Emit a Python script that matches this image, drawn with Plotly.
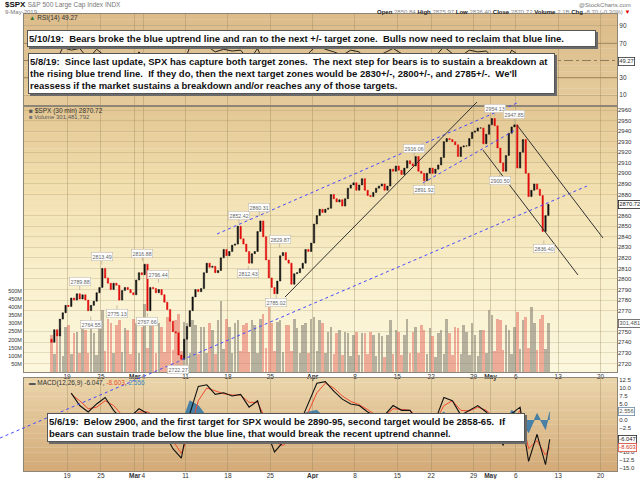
import plotly.graph_objects as go

# x axis is in trading days, 0 = Tue 19 Feb 2019 (weekends/holidays removed)
tick_days = [0, 4, 8, 9, 14, 19, 24, 29, 34, 39, 43, 48, 50, 53, 58, 63]
tick_text = ["19", "25", "<b>Mar</b>", "4", "11", "18", "25", "<b>Apr</b>", "8",
             "15", "22", "29", "<b>May</b>", "6", "13", "20"]

# $SPX, three readings per session, 14 Feb .. 9 May 2019
first_open = 2743.0
spx_close = [
    2740, 2752, 2746,  2762, 2768, 2775,  2774, 2782, 2780,  2786, 2781, 2785,
    2780, 2770, 2775,  2779, 2787, 2792,  2810, 2801, 2796,  2790, 2796, 2794,
    2780, 2789, 2792,  2790, 2787, 2785,  2799, 2806, 2804,  2814, 2770, 2792,
    2791, 2787, 2790,  2785, 2778, 2771,  2760, 2750, 2749,  2728, 2724, 2743,
    2755, 2770, 2783,  2790, 2788, 2791,  2806, 2815, 2811,  2812, 2806, 2808,
    2820, 2828, 2822,  2826, 2832, 2833,  2850, 2838, 2833,  2826, 2815, 2824,
    2826, 2845, 2855,  2840, 2818, 2801,  2792, 2786, 2798,  2822, 2825, 2818,
    2815, 2795, 2805,  2806, 2810, 2815,  2828, 2826, 2834,  2852, 2860, 2866,
    2863, 2866, 2867,  2880, 2876, 2873,  2875, 2869, 2876,  2886, 2889, 2891,
    2884, 2889, 2895,  2884, 2879, 2878,  2882, 2886, 2888,  2890, 2884, 2888,
    2904, 2902, 2907,  2903, 2899, 2905,  2912, 2909, 2907,  2916, 2902, 2900,
    2893, 2900, 2905,  2900, 2904, 2908,  2915, 2930, 2933,  2932, 2930, 2927,
    2916, 2925, 2926,  2926, 2933, 2939,  2940, 2943, 2943,  2928, 2937, 2946,
    2952, 2945, 2924,  2910, 2902, 2917,  2938, 2944, 2946,  2905, 2920, 2932,
    2900, 2878, 2884,  2890, 2885, 2879,  2845, 2860, 2870.72,
]

# volume (millions) per session: opening, middle and closing reading
vol_open = [230, 270, 290, 250, 260, 240, 380, 300, 320, 260, 300, 420, 290, 280, 330,
            360, 300, 290, 280, 260, 440, 280, 320, 300, 290, 360, 300, 320, 290, 270,
            300, 340, 300, 280, 260, 240, 250, 240, 230, 220, 320, 250, 330, 280, 260,
            220, 260, 240, 270, 250, 230, 260, 350, 320, 260, 370, 340, 300, 350]
vol_mid = [110, 100, 110, 120, 115, 105, 130, 120, 125, 110, 115, 150, 120, 125, 135,
           130, 120, 110, 115, 110, 140, 115, 130, 125, 120, 150, 130, 125, 130, 115,
           120, 130, 115, 110, 105, 100, 105, 110, 100, 95, 110, 105, 115, 120, 110,
           95, 110, 105, 110, 105, 100, 115, 130, 135, 110, 140, 150, 135, 140]
vol_close = [260, 280, 240, 320, 290, 300, 330, 290, 270, 330, 280, 300, 300, 340, 320,
             310, 320, 280, 300, 320, 330, 300, 290, 320, 330, 400, 310, 290, 330, 290,
             330, 320, 250, 240, 250, 230, 240, 250, 240, 230, 260, 230, 250, 290, 270,
             240, 330, 280, 290, 300, 260, 380, 330, 290, 280, 320, 400, 330, 301.48]

# RSI(14), one reading per session (14 Feb .. 9 May)
rsi = [45, 65, 62, 64, 52, 63, 55, 52, 50, 48, 60, 47, 49, 40, 33, 38, 66, 64, 67, 60,
       63, 61, 62, 50, 64, 40, 42, 52, 44, 52, 58, 68, 63, 60, 56, 62, 60, 48, 54, 59,
       64, 58, 56, 42, 50, 55, 66, 58, 55, 62, 60, 61, 52, 42, 62, 55, 33, 42, 49.27]

# MACD(12,26,9), one reading per session from 19 Feb, plus the last bar
macd = [8.4, 4.5, 2.5, 5.0, 7.0, 3.0, 0.0, 1.0, 3.5, 2.0, 0.5, -4, -9, -12, 2, 10.5,
        11, 8, 8.5, 7.5, 8, 4, 6, -3, -10, -7, -5, -1, 5, 11.5, 12, 9, 6.5, 5, 4.5,
        2.5, 1, 1.5, 4.5, 3, 3, -1, -1.5, 0, 7, 6, 1.5, 3, 4.5, 2.5, -1, -8, 2, 4,
        -13, -4.5, -14, -6.047]
macd_signal = [8.0, 6.0, 3.5, 4.0, 6.0, 4.5, 1.5, 0.8, 2.5, 2.5, 1.2, -2, -6.5, -10.5,
               -4, 6, 10, 9, 8.2, 7.8, 7.8, 5.5, 5.5, 0, -7, -8, -6, -2.5, 2.5, 8.5,
               11.5, 10, 7.5, 5.8, 4.8, 3.2, 1.5, 1.2, 3.5, 3.3, 3, 0.5, -1, -0.5,
               4.5, 6, 3, 2.8, 4, 3, 0.5, -5.5, -1, 3, -9, -6.5, -11, -8.603]

# labelled swing highs / lows: (trading day, price, kind)
swing_marks = [
    (1.5, 2789.88, "high"), (4.1, 2813.49, "high"), (2.8, 2764.55, "low"),
    (5.9, 2775.13, "low"), (8.9, 2816.88, "high"), (10.8, 2796.44, "high"),
    (9.5, 2767.66, "low"), (13.1, 2722.27, "low"), (20.3, 2852.42, "high"),
    (22.7, 2860.31, "high"), (21.4, 2812.43, "low"), (25.1, 2829.87, "high"),
    (24.7, 2785.02, "low"), (41.0, 2916.06, "high"), (42.2, 2891.92, "low"),
    (50.5, 2954.13, "high"), (52.8, 2947.85, "high"), (51.1, 2900.50, "low"),
    (56.3, 2836.40, "low"),
]

# hand-drawn trend lines: ((day, price), (day, price), colour)
trend_lines = [
    ((-7.91, 2649.4), (61.39, 2888.0), "#4848ff"),
    ((17.71, 2842.6), (53.13, 2966.6), "#4848ff"),
    ((42.03, 2890.9), (53.13, 2942.0), "#4848ff"),
    ((25.74, 2782.9), (48.41, 2967.6), "#333333"),
    ((49.11, 2922.1), (60.33, 2803.8), "#333333"),
    ((53.13, 2945.8), (63.28, 2838.8), "#333333"),
]

# commentary boxes: text, left / top in paper units, box width / height in px
notes = [
    ("5/10/19:  Bears broke the blue uptrend line and ran to the next +/- target zone.  "
     "Bulls now need to reclaim that blue line.", 0.005, 0.965, 565, 13),
    ("5/8/19:  Since last update, SPX has capture both target zones.  The next step for "
     "bears is to sustain a breakdown at<br>the rising blue trend line.  If they do, then "
     "the next target zones would be 2830+/-, 2800+/-, and 2785+/-.  We'll<br>reassess if "
     "the market sustains a breakdown and/or reaches any of those targets.",
     0.0067, 0.9147, 523, 37),
    ("5/6/19:  Below 2900, and the first target for SPX would be 2890-95, second target "
     "would be 2858-65.  If<br>bears can sustain trade below the blue line, that would "
     "break the recent uptrend channel.", 0.0388, 0.1269, 474, 25),
]

X0, X1 = -5.08, 64.94
P0, P1 = 2711.9, 2963.8
RSI_DOM = [0.7987, 1.0]
MAIN_DOM = [0.2166, 0.7987]
MACD_DOM = [0.0, 0.2035]
FONT = "Liberation Sans"

bar_day = [-2 + (i + 0.5) / 3 for i in range(len(spx_close))]
spx_open = [first_open] + spx_close[:-1]
spx_high = [max(o, c) for o, c in zip(spx_open, spx_close)]
spx_low = [min(o, c) for o, c in zip(spx_open, spx_close)]

volume = []
for o, m, c in zip(vol_open, vol_mid, vol_close):
    volume += [o, m, c]
vol_colors = ["rgba(226,96,84,0.5)" if c < o else "rgba(112,108,98,0.5)"
              for o, c in zip(spx_open, spx_close)]

rsi_day = [d + 0.5 for d in range(-2, -2 + len(rsi))]
macd_day = [d + 0.5 for d in range(len(macd) - 1)] + [len(macd) - 1.0]
macd_hist = [m - s for m, s in zip(macd, macd_signal)]


def to_paper(day, price):
    fx = (day - X0) / (X1 - X0)
    fy = MAIN_DOM[0] + (price - P0) / (P1 - P0) * (MAIN_DOM[1] - MAIN_DOM[0])
    return fx, fy


def gradient_bands(xref, yref, stops, n=40):
    # horizontal colour bands behind one panel, bottom (0) to top (1)
    out = []
    for k in range(n):
        t = (k + 0.5) / n
        rgb = stops[-1][1]
        for (p0, c0), (p1, c1) in zip(stops, stops[1:]):
            if p0 <= t <= p1:
                f = (t - p0) / (p1 - p0)
                rgb = [round(a + (b - a) * f) for a, b in zip(c0, c1)]
                break
        out.append(dict(type="rect", xref=xref + " domain", yref=yref + " domain",
                        x0=0, x1=1, y0=k / n, y1=min((k + 1.05) / n, 1),
                        fillcolor="rgb(%d,%d,%d)" % tuple(rgb),
                        line=dict(width=0), layer="below"))
    return out


fig = go.Figure()

# volume under the candles
fig.add_trace(go.Bar(x=bar_day, y=volume, xaxis="x2", yaxis="y2",
                     marker=dict(color=vol_colors, line=dict(width=0)),
                     width=0.3, hoverinfo="skip", showlegend=False))

fig.add_trace(go.Candlestick(
    x=bar_day, open=spx_open, high=spx_high, low=spx_low, close=spx_close,
    xaxis="x2", yaxis="y3", whiskerwidth=0,
    increasing=dict(line=dict(color="#111111", width=0.5), fillcolor="#111111"),
    decreasing=dict(line=dict(color="#e00d0d", width=0.5), fillcolor="#e00d0d"),
    hoverinfo="skip", showlegend=False))

fig.add_trace(go.Scatter(x=rsi_day, y=rsi, xaxis="x", yaxis="y", mode="lines",
                         line=dict(color="#111111", width=0.9),
                         hoverinfo="skip", showlegend=False))

fig.add_trace(go.Scatter(x=macd_day, y=macd_hist, xaxis="x3", yaxis="y4", mode="lines",
                         fill="tozeroy", fillcolor="rgba(34,112,170,0.8)",
                         line=dict(color="#1f6aa2", width=0.5),
                         hoverinfo="skip", showlegend=False))
fig.add_trace(go.Scatter(x=macd_day, y=macd_signal, xaxis="x3", yaxis="y4", mode="lines",
                         line=dict(color="#f04a30", width=1),
                         hoverinfo="skip", showlegend=False))
fig.add_trace(go.Scatter(x=macd_day, y=macd, xaxis="x3", yaxis="y4", mode="lines",
                         line=dict(color="#111111", width=1.1),
                         hoverinfo="skip", showlegend=False))

shapes = []
shapes += gradient_bands("x", "y", [(0, (229, 204, 156)), (1, (219, 187, 137))], 16)
shapes += gradient_bands("x2", "y2", [(0, (251, 247, 222)), (0.35, (249, 240, 204)),
                                      (0.7, (241, 223, 174)), (1, (226, 198, 146))], 50)
shapes += gradient_bands("x3", "y4", [(0, (211, 170, 120)), (1, (234, 213, 170))], 20)

for lvl, col, dash in [(70, "#a48a5c", "solid"), (30, "#a48a5c", "solid"),
                       (50, "#8c7b5e", "dashdot")]:
    shapes.append(dict(type="line", xref="paper", yref="y", x0=0, x1=1, y0=lvl, y1=lvl,
                       line=dict(color=col, width=1, dash=dash), layer="below"))

for (d0, p0), (d1, p1), col in trend_lines:
    ax0, ay0 = to_paper(d0, p0)
    ax1, ay1 = to_paper(d1, p1)
    shapes.append(dict(type="line", xref="paper", yref="paper", x0=ax0, y0=ay0,
                       x1=ax1, y1=ay1, layer="above",
                       line=dict(color=col, width=1,
                                 dash="dot" if col == "#4848ff" else "solid")))

tickfont = dict(family=FONT, size=6.5, color="#333333")
grid = "rgba(150,128,88,0.35)"
xbase = dict(range=[X0, X1], tickvals=tick_days, ticktext=tick_text, showgrid=True,
             gridcolor=grid, gridwidth=1, zeroline=False, showline=True,
             linecolor="#8f8576", mirror=True, ticks="", tickangle=0,
             ticklabelstandoff=-2, automargin=False, tickfont=tickfont)
# labels hidden behind the value tags are left out
price_ticks = [p for p in range(2720, 2961, 10) if p not in (2760, 2870)]
macd_ticks = [12.5, 10, 7.5, 5, 0, -2.5, -10, -12.5, -15]

fig.update_layout(
    width=640, height=479,
    margin=dict(l=24, r=23, t=14, b=8, autoexpand=False),
    paper_bgcolor="white", plot_bgcolor="rgba(0,0,0,0)",
    font=dict(family=FONT, size=7, color="#333333"),
    showlegend=False,
    bargap=0,
    xaxis=dict(xbase, anchor="y", showticklabels=False),
    xaxis2=dict(xbase, anchor="y2", rangeslider=dict(visible=False)),
    xaxis3=dict(xbase, anchor="y4"),
    yaxis=dict(domain=RSI_DOM, anchor="x", side="right", range=[-2.75, 103.9],
               tickvals=[10, 30, 70, 90], showgrid=True, gridcolor=grid,
               zeroline=False, showline=True, linecolor="#8f8576", mirror=True,
               ticks="", automargin=False, tickfont=tickfont),
    yaxis2=dict(domain=MAIN_DOM, anchor="x2", side="left", range=[0, 1642],
                tickvals=[50, 100, 150, 200, 250, 300, 350, 400, 450, 500],
                ticktext=["50M", "100M", "150M", "200M", "250M", "300M", "350M",
                          "400M", "450M", "500M"],
                showgrid=False, zeroline=False, showline=True, linecolor="#8f8576",
                mirror=True, ticks="", automargin=False,
                tickfont=dict(tickfont, size=5.5)),
    yaxis3=dict(overlaying="y2", anchor="x2", side="right", range=[P0, P1],
                tickvals=price_ticks, showgrid=True, gridcolor="rgba(150,128,88,0.22)",
                zeroline=False, ticks="", automargin=False, tickfont=dict(tickfont, size=6)),
    yaxis4=dict(domain=MACD_DOM, anchor="x3", side="right", range=[-16.0, 13.13],
                tickvals=macd_ticks, tickformat=".1f", showgrid=False, zeroline=False,
                showline=True, linecolor="#8f8576", mirror=True, ticks="",
                automargin=False, tickfont=dict(tickfont, size=6)),
    shapes=shapes,
)

# swing high / low price labels
for d, p, kind in swing_marks:
    fig.add_annotation(x=d, y=p, xref="x2", yref="y3", text="%.2f" % p,
                       showarrow=True, arrowhead=0, arrowwidth=0.7, arrowcolor="#b0a898",
                       ax=0, ay=-8 if kind == "high" else 8,
                       font=dict(family=FONT, size=5.3, color="#666666"),
                       bgcolor="white", bordercolor="#b8b0a0", borderwidth=0.5, borderpad=1)

# commentary boxes, each with a grey drop shadow of the same size behind it
for text, px, py, bw, bh in notes:
    for shadow in (True, False):
        fig.add_annotation(
            x=px, y=py, xref="paper", yref="paper", xanchor="left", yanchor="top",
            text=" " if shadow else "<b>%s</b>" % text, align="left", valign="middle",
            showarrow=False, width=bw, height=bh,
            xshift=2 if shadow else 0, yshift=-2 if shadow else 0,
            font=dict(family=FONT, size=9.5, color="#111111"),
            bgcolor="#6a6a6a" if shadow else "white",
            bordercolor="#6a6a6a" if shadow else "#555555",
            borderwidth=1, borderpad=1)

# header and panel titles
header = [
    ("<b>$SPX</b> <span style='color:#777;font-size:6.5px'>S&P 500 Large Cap Index INDX</span>",
     -0.0354, 1.0197, "left", 8, "#111111"),
    ("9-May-2019", -0.0354, 1.0044, "left", 6, "#777777"),
    ("@StockCharts.com", 1.027, 1.0197, "right", 6, "#777777"),
    ("<b>Open</b> <span style='color:#888'>2850.84</span> <b>High</b> "
     "<span style='color:#888'>2875.97</span> <b>Low</b> <span style='color:#888'>2836.40</span> "
     "<b>Close</b> <span style='color:#888'>2870.72</span> <b>Volume</b> "
     "<span style='color:#888'>2.1B</span> <b>Chg</b> <span style='color:#888'>-8.70 (-0.30%)</span> "
     "<span style='color:#d00'>▼</span>", 1.025, 1.0044, "right", 6, "#222222"),
    ("<span style='color:#3a7a2a'>▲</span> RSI(14) 49.27", 0.005, 0.9912, "left", 6.5, "#333333"),
    ("<span style='color:#555'>■</span> $SPX (30 min) 2870.72", 0.005, 0.7877, "left", 6.5, "#333333"),
    ("<span style='color:#777'>■</span> Volume 301,481,792", 0.005, 0.7746, "left", 6, "#555555"),
    ("<span style='color:#555'>▬</span> MACD(12,26,9) -6.047, <span style='color:#e8502e'>-8.603</span>, "
     "<span style='color:#3a8ac0'>2.556</span>", 0.005, 0.192, "left", 6.5, "#333333"),
]
for text, hx, hy, anchor, size, col in header:
    fig.add_annotation(x=hx, y=hy, xref="paper", yref="paper", xanchor=anchor,
                       yanchor="middle", text=text, showarrow=False,
                       font=dict(family=FONT, size=size, color=col))

# value tags on the right-hand axes
tags = [
    ("49.27", 49.27, "y", "#333333", "#333333"),
    ("2870.72", 2870.72, "y3", "#222222", "#222222"),
    ("301,481,792", 301.48, "y2", "#555555", "#555555"),
    ("2.556", 2.556, "y4", "#555555", "#6a8aa8"),
    ("-6.047", -6.047, "y4", "#222222", "#222222"),
    ("-8.603", -8.603, "y4", "#d03020", "#e05040"),
]
for text, val, yref, col, border in tags:
    fig.add_annotation(x=1, y=val, xref="paper", yref=yref, xanchor="left",
                       yanchor="middle", xshift=1, text=text, showarrow=False,
                       font=dict(family=FONT, size=5.8, color=col),
                       bgcolor="white", bordercolor=border, borderwidth=0.8, borderpad=0.5)

# the page is photographed at exactly the figure size, so drop the body margin
fig.write_html("out.html", config={"displayModeBar": False},
               post_script="document.body.style.margin='0px';")
